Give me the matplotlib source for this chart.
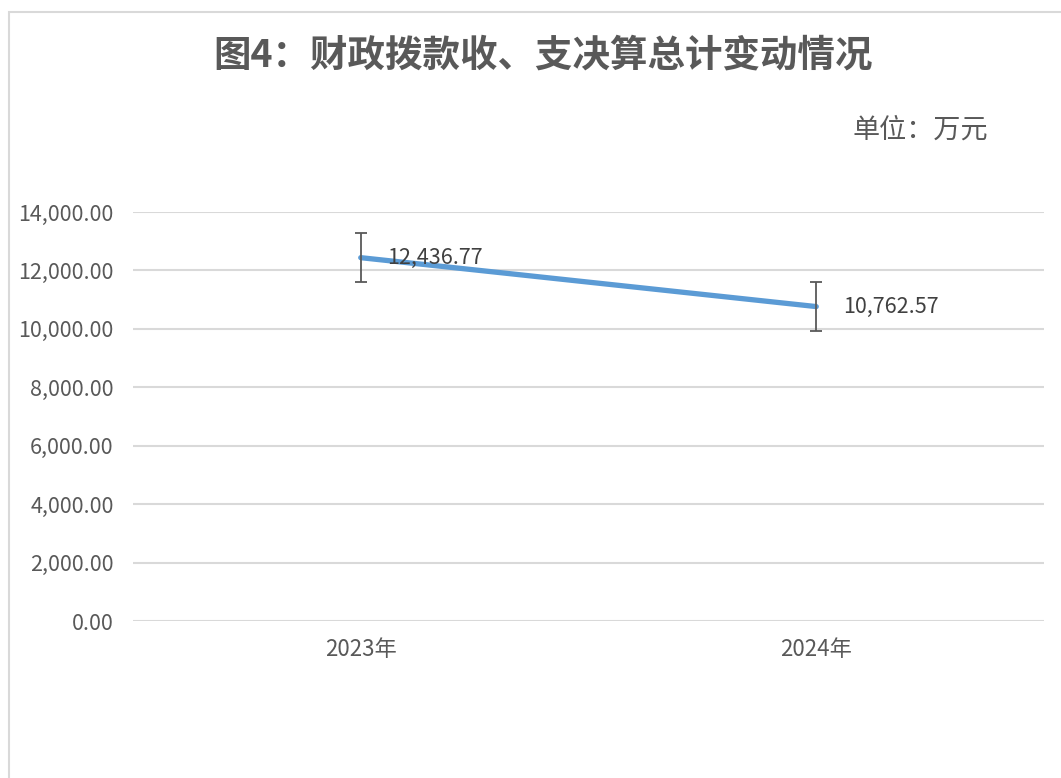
import matplotlib
matplotlib.use("Agg")
import matplotlib.pyplot as plt
from matplotlib.patches import Rectangle
from matplotlib.ticker import FuncFormatter

plt.rcParams['font.family'] = ['Noto Sans CJK SC', 'DejaVu Sans']

# données
annees = ["2023年", "2024年"]
totaux = [12436.77, 10762.57]
erreurs = [837.1, 837.1]
yticks = [0, 2000, 4000, 6000, 8000, 10000, 12000, 14000]

W, H = 1061, 778
fig = plt.figure(figsize=(W / 100, H / 100), dpi=100)

# cadre du graphique (coupé à droite et en bas)
fig.patches.append(Rectangle((9 / W, -0.2), 1.2, 1.2 - 12 / H, transform=fig.transFigure,
                             fill=False, edgecolor="#D9D9D9", linewidth=1.5))

ax = fig.add_axes([133 / W, (H - 621) / H, (1044 - 133) / W, (621 - 212) / H])
x = list(range(len(annees)))

ax.plot(x, totaux, color="#5B9BD5", linewidth=3.8, solid_capstyle="round", zorder=3)
ax.errorbar(x, totaux, yerr=erreurs, fmt="none", ecolor="#595959", elinewidth=1.3,
            capsize=4.5, capthick=1.3, zorder=4)

for xi, v in zip(x, totaux):
    ax.annotate(f"{v:,.2f}", (xi, v), xytext=(19, 0), textcoords="offset points",
                ha="left", va="center", fontsize=15.5, color="#404040", zorder=5)

ax.set_xlim(-0.5, len(annees) - 0.5)
ax.set_ylim(0, 14000)
ax.set_yticks(yticks)
ax.yaxis.set_major_formatter(FuncFormatter(lambda v, p: f"{v:,.2f}"))
ax.set_xticks(x)
ax.set_xticklabels(annees)
ax.tick_params(axis="both", length=0, labelcolor="#595959")
ax.tick_params(axis="y", pad=14, labelsize=15.5)
ax.tick_params(axis="x", pad=12, labelsize=16)
ax.grid(axis="y", color="#D9D9D9", linewidth=1.5)
ax.set_axisbelow(True)
for s in ax.spines.values():
    s.set_visible(False)

fig.text(543 / W, 1 - 55 / H, "图4：财政拨款收、支决算总计变动情况", ha="center", va="center",
         fontsize=27, fontweight="bold", color="#595959")
fig.text(988 / W, 1 - 130 / H, "单位：万元", ha="right", va="center",
         fontsize=19.5, color="#595959")

fig.savefig("out.png", dpi=100)
